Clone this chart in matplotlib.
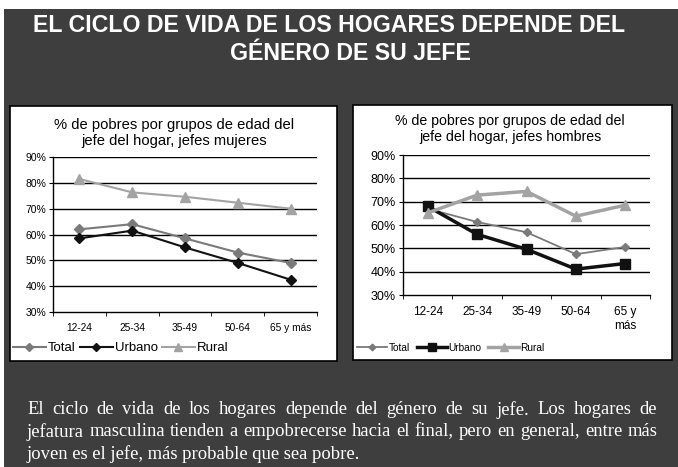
import matplotlib
matplotlib.use("Agg")
import matplotlib.pyplot as plt
from matplotlib.patches import Rectangle

categories = ["12-24", "25-34", "35-49", "50-64", "65 y más"]
categories_h = ["12-24", "25-34", "35-49", "50-64", "65 y\nmás"]

muj_total = [62, 64, 58.5, 53, 49]
muj_urbano = [58.5, 61.5, 55, 49, 42.5]
muj_rural = [81.5, 76.3, 74.6, 72.3, 70]

hom_total = [67, 61.3, 56.9, 47.5, 50.6]
hom_urbano = [68, 56, 49.6, 41.1, 43.5]
hom_rural = [65.2, 72.8, 74.4, 63.8, 68.5]

yticks = [30, 40, 50, 60, 70, 80, 90]
ytick_labels = ["30%", "40%", "50%", "60%", "70%", "80%", "90%"]

title = ["EL CICLO DE VIDA DE LOS HOGARES DEPENDE DEL", "GÉNERO DE SU JEFE"]
chart_title_m = "% de pobres por grupos de edad del\njefe del hogar, jefes mujeres"
chart_title_h = "% de pobres por grupos de edad del\njefe del hogar, jefes hombres"
body = ["El ciclo de vida de los hogares depende del género de su jefe. Los hogares de",
        "jefatura masculina tienden a empobrecerse hacia el final, pero en general, entre más",
        "joven es el jefe, más probable que sea pobre."]

W, H = 678, 467
fig = plt.figure(figsize=(W / 100, H / 100), dpi=100)
fig.patch.set_facecolor("white")
plt.rcParams["font.family"] = ["Liberation Sans", "DejaVu Sans"]

def px(x0, y0, x1, y1):
    return [x0 / W, 1 - y1 / H, (x1 - x0) / W, (y1 - y0) / H]

# dark background
fig.patches.append(Rectangle((4 / W, 0), 1, 1 - 9 / H, transform=fig.transFigure,
                             facecolor="#3e3e3e", edgecolor="none", zorder=0))
# white boxes
for (x0, y0, x1, y1) in [(10, 106, 337, 361), (353, 105, 672, 360)]:
    fig.patches.append(Rectangle((x0 / W, 1 - y1 / H), (x1 - x0) / W, (y1 - y0) / H,
                                 transform=fig.transFigure, facecolor="white",
                                 edgecolor="black", linewidth=1.2, zorder=1))

# titles
fig.text(329 / W, 1 - 26 / H, title[0], color="white", fontsize=16.7, fontweight="bold",
         ha="center", va="center")
fig.text(350 / W, 1 - 53 / H, title[1], color="white", fontsize=16.7, fontweight="bold",
         ha="center", va="center")

C_TOTAL = "#7a7a7a"
C_URB = "#111111"
C_RUR = "#a3a3a3"

def setup(ax, labels, fs_tick, fs_x):
    ax.set_xlim(-0.5, 4.5)
    ax.set_ylim(30, 90)
    ax.set_yticks(yticks)
    ax.set_yticklabels(ytick_labels, fontsize=fs_tick)
    ax.set_xticks(range(5))
    ax.set_xticklabels(labels, fontsize=fs_x, va="top")
    ax.tick_params(axis="x", length=0, pad=8)
    ax.set_xticks([i + 0.5 for i in range(-1, 5)], minor=True)
    ax.tick_params(axis="x", which="minor", length=3, direction="out", color="black")
    ax.tick_params(axis="y", length=3, direction="out", pad=2)
    for v in yticks[1:]:
        ax.axhline(v, color="black", linewidth=1.0, zorder=1)
    for s in ["top", "right"]:
        ax.spines[s].set_visible(False)
    ax.spines["left"].set_linewidth(1.0)
    ax.spines["bottom"].set_linewidth(1.0)
    ax.set_facecolor("none")

# left chart (mujeres)
ax1 = fig.add_axes(px(53, 157, 317, 312), zorder=3)
x = range(5)
ax1.plot(x, muj_total, color=C_TOTAL, marker="D", markersize=5, linewidth=1.5, label="Total", zorder=3)
ax1.plot(x, muj_urbano, color=C_URB, marker="D", markersize=5, linewidth=1.5, label="Urbano", zorder=3)
ax1.plot(x, muj_rural, color=C_RUR, marker="^", markersize=7, linewidth=1.5, label="Rural", zorder=3)
setup(ax1, categories, 7.5, 7.3)
fig.text(174 / W, 1 - 133 / H, chart_title_m, fontsize=10.6, ha="center", va="center",
         linespacing=1.25, zorder=4)
leg1 = fig.legend(handles=ax1.get_lines()[:3], labels=["Total", "Urbano", "Rural"],
                  loc="center left", bbox_to_anchor=(13 / W, 1 - 348 / H), ncol=3,
                  frameon=False, fontsize=9.5, handlelength=2.5, handletextpad=0.15,
                  columnspacing=0.3, borderaxespad=0, borderpad=0, markerscale=0.9)
leg1.set_zorder(5)

# right chart (hombres)
ax2 = fig.add_axes(px(403, 155, 650, 295), zorder=3)
ax2.plot(x, hom_total, color=C_TOTAL, marker="D", markersize=4, linewidth=1.3, label="Total", zorder=3)
ax2.plot(x, hom_urbano, color=C_URB, marker="s", markersize=7, linewidth=2.5, label="Urbano", zorder=3)
ax2.plot(x, hom_rural, color=C_RUR, marker="^", markersize=7, linewidth=2.5, label="Rural", zorder=3)
setup(ax2, categories_h, 9, 8.5)
fig.text(510 / W, 1 - 129 / H, chart_title_h, fontsize=10.2, ha="center", va="center",
         linespacing=1.15, zorder=4)
leg2 = fig.legend(handles=ax2.get_lines()[:3], labels=["Total", "Urbano", "Rural"],
                  loc="center left", bbox_to_anchor=(357 / W, 1 - 348 / H), ncol=3,
                  frameon=False, fontsize=7.3, handlelength=3.0, handletextpad=0.1,
                  columnspacing=0.7, borderaxespad=0, borderpad=0, markerscale=0.85)
leg2.set_zorder(5)

# body text, justified
renderer = fig.canvas.get_renderer()
x_left, x_right = 27, 657
ys = [410, 432, 454]
FS = 13.4
for i, line in enumerate(body):
    words = line.split(" ")
    if i < 2:
        widths = []
        for w_ in words:
            t = fig.text(0, 0, w_, fontsize=FS, family="Liberation Serif")
            widths.append(t.get_window_extent(renderer).width)
            t.remove()
        gap = (x_right - x_left - sum(widths)) / (len(words) - 1)
        cx = x_left
        for w_, wd in zip(words, widths):
            fig.text(cx / W, 1 - ys[i] / H, w_, fontsize=FS, family="Liberation Serif",
                     color="white", ha="left", va="center")
            cx += wd + gap
    else:
        fig.text(x_left / W, 1 - ys[i] / H, line, fontsize=FS, family="Liberation Serif",
                 color="white", ha="left", va="center")

fig.savefig("out.png", dpi=100, facecolor=fig.get_facecolor())
